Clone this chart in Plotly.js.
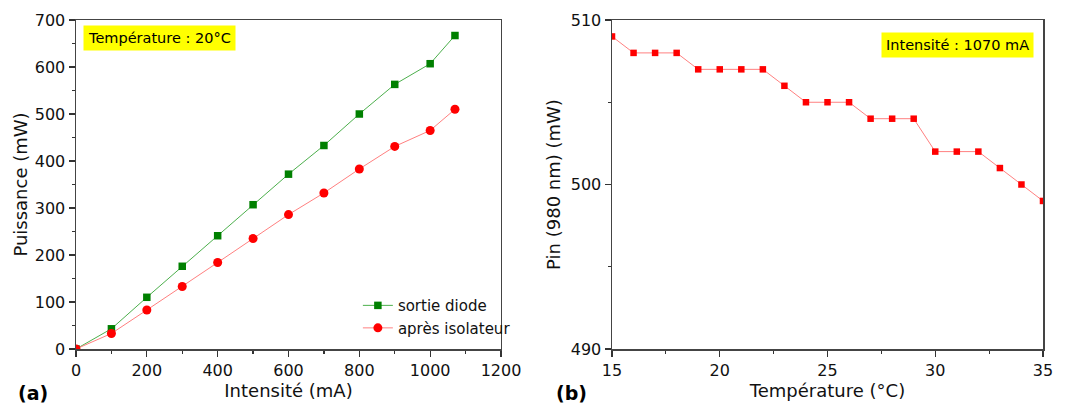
<!DOCTYPE html>
<html><head><meta charset="utf-8">
<script src="https://cdn.plot.ly/plotly-3.0.1.min.js"></script>
<style>body{margin:0;background:#fff}#c{width:1065px;height:403px}</style>
</head><body><div id="c"></div>
<script>
const intensite = [0,100,200,300,400,500,600,700,800,900,1000,1070];
const sortieDiode = [0,43,110,176,241,307,372,433,500,563,607,667];
const apresIsolateur = [0,33,83,133,184,235,286,332,383,431,465,510];
const temperature = [15,16,17,18,19,20,21,22,23,24,25,26,27,28,29,30,31,32,33,34,35];
const pin = [509,508,508,508,507,507,507,507,506,505,505,505,504,504,504,502,502,502,501,500,499];

const F = '"DejaVu Sans", sans-serif';
const traces = [
  {x:intensite, y:sortieDiode, name:'sortie diode', mode:'lines+markers', xaxis:'x', yaxis:'y',
   line:{color:'#4caf4c', width:1}, marker:{symbol:'square', size:7.5, color:'#008000'}},
  {x:intensite, y:apresIsolateur, name:'après isolateur', mode:'lines+markers', xaxis:'x', yaxis:'y',
   line:{color:'#ff8080', width:1}, marker:{symbol:'circle', size:9, color:'#ff0000'}},
  {x:temperature, y:pin, name:'Pin', mode:'lines+markers', xaxis:'x2', yaxis:'y2', showlegend:false,
   line:{color:'#ff8080', width:1}, marker:{symbol:'square', size:6.5, color:'#ff0000'}}
];
const ax = (o) => Object.assign({
  showgrid:false, zeroline:false, showline:true, linecolor:'#444', linewidth:1.5, mirror:true,
  ticks:'outside', ticklen:6, tickwidth:1.2, tickcolor:'#333',
  tickfont:{family:F, size:16, color:'#111'}
}, o);
const TF = {family:F, size:18, color:'#111'};
const layout = {
  width:1065, height:403, margin:{l:76, r:22, t:20, b:54},
  paper_bgcolor:'#fff', plot_bgcolor:'#fff', font:{family:F, color:'#111'},
  xaxis: ax({domain:[0,0.4395], anchor:'y', range:[0,1200], dtick:200,
    minor:{dtick:100, ticks:'outside', ticklen:3, tickcolor:'#333'},
    title:{text:'Intensité (mA)', font:TF, standoff:4}}),
  yaxis: ax({domain:[0,1], anchor:'x', range:[0,700], dtick:100,
    minor:{dtick:50, ticks:'outside', ticklen:3, tickcolor:'#333'},
    title:{text:'Puissance (mW)', font:TF, standoff:2}}),
  xaxis2: ax({domain:[0.5543,1], anchor:'y2', range:[15,35], dtick:5,
    minor:{dtick:2.5, ticks:'outside', ticklen:3, tickcolor:'#333'},
    title:{text:'Température (°C)', font:TF, standoff:4}}),
  yaxis2: ax({domain:[0,1], anchor:'x2', range:[490,510], dtick:10,
    minor:{dtick:5, ticks:'outside', ticklen:3, tickcolor:'#333'},
    title:{text:'Pin (980 nm) (mW)', font:TF, standoff:5}}),
  legend:{x:0.2915, xanchor:'left', y:0.182, yanchor:'top', xref:'paper', yref:'paper',
    font:{family:F, size:15, color:'#111'}, bgcolor:'rgba(0,0,0,0)', tracegroupgap:4},
  annotations:[
    {text:'Température : 20°C', xref:'x', yref:'y', x:20, y:661, xanchor:'left', yanchor:'middle', showarrow:false,
     bgcolor:'#ffff00', font:{family:F, size:14.5, color:'#000'}, borderpad:4},
    {text:'Intensité : 1070 mA', xref:'x2', yref:'y2', x:34.6, y:508.5, xanchor:'right', yanchor:'middle', showarrow:false,
     bgcolor:'#ffff00', font:{family:F, size:14.5, color:'#000'}, borderpad:4},
    {text:'<b>(a)</b>', xref:'paper', yref:'paper', x:-0.062, y:-0.095, xanchor:'left', yanchor:'top', showarrow:false,
     font:{family:F, size:19, color:'#000'}},
    {text:'<b>(b)</b>', xref:'paper', yref:'paper', x:0.494, y:-0.095, xanchor:'left', yanchor:'top', showarrow:false,
     font:{family:F, size:19, color:'#000'}}
  ]
};
Plotly.newPlot('c', traces, layout, {displayModeBar:false, staticPlot:true});
</script></body></html>
